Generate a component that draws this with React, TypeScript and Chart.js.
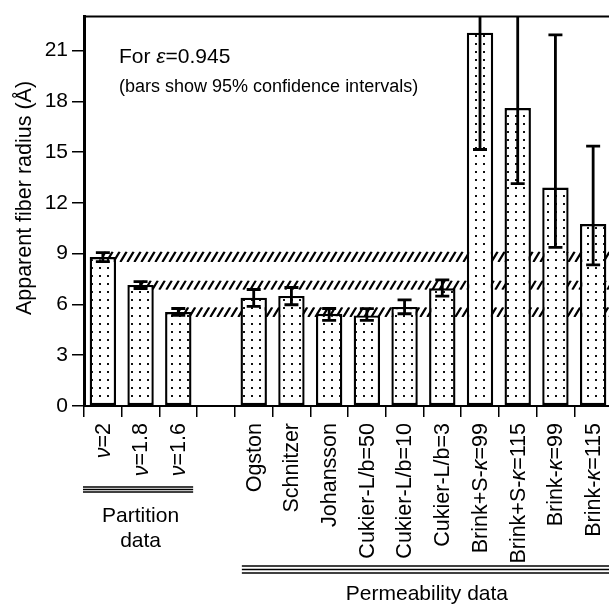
import React, { useEffect, useRef } from "react";
import { Chart, registerables } from "chart.js";
Chart.register(...registerables);

// ---------- data ----------
const categories = [
  "ν=2", "ν=1.8", "ν=1.6", "",
  "Ogston", "Schnitzer", "Johansson",
  "Cukier-L/b=50", "Cukier-L/b=10", "Cukier-L/b=3",
  "Brink+S-κ=99", "Brink+S-κ=115", "Brink-κ=99", "Brink-κ=115",
];
const radius = [8.8, 7.15, 5.55, null, 6.4, 6.5, 5.45, 5.35, 5.85, 6.95, 22.05, 17.6, 12.9, 10.75];
const ciLow = [8.53, 6.94, 5.35, null, 5.88, 5.98, 5.06, 5.06, 5.45, 6.49, 15.15, 13.14, 9.37, 8.33];
const ciHigh = [9.06, 7.35, 5.76, null, 6.88, 7.0, 5.76, 5.75, 6.27, 7.45, 29.0, 25.0, 21.92, 15.35];
const bandLow = [8.5, 6.86, 5.25];
const bandHigh = [9.12, 7.41, 5.84];
const bandStart = [0, 1, 2];
const yTicks = [0, 3, 6, 9, 12, 15, 18, 21];
const yMax = 23;
const yTitle = "Apparent fiber radius (Å)";
const note1 = "For ε=0.945";
const note2 = "(bars show 95% confidence intervals)";
const groupLabels = [["Partition", "data"], ["Permeability data"]];
const groupFrom = [0, 4];
const groupTo = [3, 14];

const FONT = '"Liberation Sans", Arial, Helvetica, sans-serif';
const GREEK = /[νκε]/;

function runs(text: string) {
  const out: { t: string; it: boolean }[] = [];
  for (const ch of text) {
    const it = GREEK.test(ch);
    if (out.length && out[out.length - 1].it === it) out[out.length - 1].t += ch;
    else out.push({ t: ch, it });
  }
  return out;
}

function drawRich(ctx: CanvasRenderingContext2D, text: string, x: number, y: number, size: number, align: string) {
  const rs = runs(text);
  const widths = rs.map((r) => {
    ctx.font = `${r.it ? "italic " : ""}${size}px ${FONT}`;
    return ctx.measureText(r.t).width;
  });
  const total = widths.reduce((a, b) => a + b, 0);
  let cx = align === "right" ? x - total : align === "center" ? x - total / 2 : x;
  ctx.textAlign = "left";
  rs.forEach((r, i) => {
    ctx.font = `${r.it ? "italic " : ""}${size}px ${FONT}`;
    ctx.fillText(r.t, cx, y);
    cx += widths[i];
  });
}

const W = 625;
const H = 605;

const decorPlugin = {
  id: "decor",
  beforeDatasetsDraw(chart: any) {
    const { ctx, chartArea, scales } = chart;
    const xs = scales.x;
    const ys = scales.y;
    bandLow.forEach((lo, k) => {
      const x0 = xs.getPixelForValue(bandStart[k]);
      const x1 = chartArea.right;
      const yTop = ys.getPixelForValue(bandHigh[k]);
      const yBot = ys.getPixelForValue(lo);
      const h = yBot - yTop;
      ctx.save();
      ctx.beginPath();
      ctx.rect(x0, yTop, x1 - x0, h);
      ctx.clip();
      ctx.strokeStyle = "#000";
      ctx.lineWidth = 2.2;
      ctx.beginPath();
      for (let x = x0 - h; x < x1 + h; x += 7) {
        ctx.moveTo(x, yBot);
        ctx.lineTo(x + h * 0.6, yTop);
      }
      ctx.stroke();
      ctx.restore();
    });
  },
  afterDatasetsDraw(chart: any) {
    const { ctx, chartArea, scales } = chart;
    const xs = scales.x;
    const ys = scales.y;
    ctx.save();
    ctx.beginPath();
    ctx.rect(chartArea.left, chartArea.top, chartArea.right - chartArea.left, chartArea.bottom - chartArea.top);
    ctx.clip();
    ctx.strokeStyle = "#000";
    ctx.lineWidth = 2.8;
    categories.forEach((_, i) => {
      const lo = ciLow[i];
      const hi = ciHigh[i];
      if (lo == null || hi == null) return;
      const x = xs.getPixelForValue(i);
      const yl = ys.getPixelForValue(lo);
      const yh = ys.getPixelForValue(hi);
      ctx.beginPath();
      ctx.moveTo(x, yl);
      ctx.lineTo(x, yh);
      ctx.moveTo(x - 7, yl);
      ctx.lineTo(x + 7, yl);
      ctx.moveTo(x - 7, yh);
      ctx.lineTo(x + 7, yh);
      ctx.stroke();
    });
    ctx.restore();
  },
  afterDraw(chart: any) {
    const { ctx, chartArea, scales } = chart;
    const xs = scales.x;
    ctx.save();
    ctx.fillStyle = "#000";
    ctx.strokeStyle = "#000";
    // top border
    ctx.lineWidth = 2;
    ctx.beginPath();
    ctx.moveTo(chartArea.left, chartArea.top);
    ctx.lineTo(chartArea.right, chartArea.top);
    ctx.stroke();

    // y title
    ctx.save();
    ctx.translate(25, 198);
    ctx.rotate(-Math.PI / 2);
    ctx.textBaseline = "middle";
    drawRich(ctx, yTitle, 0, 0, 21.5, "center");
    ctx.restore();

    // notes
    ctx.textBaseline = "alphabetic";
    drawRich(ctx, note1, 119, 63, 21, "left");
    drawRich(ctx, note2, 119, 92, 18, "left");

    // x labels
    const slot = xs.getPixelForValue(1) - xs.getPixelForValue(0);
    categories.forEach((lab, i) => {
      if (!lab) return;
      const x = xs.getPixelForValue(i);
      ctx.save();
      ctx.translate(x + 1, chartArea.bottom + 17);
      ctx.rotate(-Math.PI / 2);
      ctx.textBaseline = "middle";
      drawRich(ctx, lab, 0, 0, 21.5, "right");
      ctx.restore();
    });

    // groups
    const edge = (i: number) => xs.getPixelForValue(0) + (i - 0.5) * slot;
    ctx.lineWidth = 1.3;
    // partition
    const p0 = edge(groupFrom[0]) - 1;
    const p1 = edge(groupTo[0]) - 4;
    [487, 489.5, 492].forEach((y) => {
      ctx.beginPath();
      ctx.moveTo(p0, y);
      ctx.lineTo(p1, y);
      ctx.stroke();
    });
    const pc = (edge(groupFrom[0]) + edge(groupTo[0])) / 2;
    drawRich(ctx, groupLabels[0][0], pc, 522, 21, "center");
    drawRich(ctx, groupLabels[0][1], pc, 547, 21, "center");
    // permeability
    const q0 = edge(groupFrom[1]) + 7;
    const q1 = edge(groupTo[1]);
    [566, 569.5, 573].forEach((y) => {
      ctx.beginPath();
      ctx.moveTo(q0, y);
      ctx.lineTo(q1, y);
      ctx.stroke();
    });
    drawRich(ctx, groupLabels[1][0], (q0 + q1) / 2, 600, 21, "center");
    ctx.restore();
  },
};

export default function App() {
  const ref = useRef<HTMLCanvasElement | null>(null);
  useEffect(() => {
    const canvas = ref.current!;
    const ctx = canvas.getContext("2d")!;
    const tile = document.createElement("canvas");
    tile.width = 8;
    tile.height = 8;
    const tc = tile.getContext("2d")!;
    tc.fillStyle = "#fff";
    tc.fillRect(0, 0, 8, 8);
    tc.fillStyle = "#111";
    tc.fillRect(3, 3, 2, 2);
    const pattern = ctx.createPattern(tile, "repeat");

    const chart = new Chart(canvas, {
      type: "bar",
      data: {
        labels: categories,
        datasets: [
          {
            data: radius as any,
            backgroundColor: pattern as any,
            borderColor: "#000",
            borderWidth: 2.4,
            borderSkipped: false,
            barPercentage: 0.7,
            categoryPercentage: 1,
          },
        ],
      },
      options: {
        animation: false,
        responsive: false,
        devicePixelRatio: 1,
        layout: { padding: { top: 14, right: W - 612, left: 0, bottom: 0 } },
        plugins: { legend: { display: false }, tooltip: { enabled: false } },
        scales: {
          x: {
            type: "category",
            offset: true,
            grid: { offset: true, drawOnChartArea: false, drawTicks: true, tickLength: 11, color: "#000", lineWidth: 1.5 },
            border: { display: true, color: "#000", width: 2 },
            ticks: { display: false, autoSkip: false },
            afterFit: (s: any) => { s.height = H - 406; },
          },
          y: {
            min: 0,
            max: yMax,
            afterBuildTicks: (s: any) => { s.ticks = yTicks.map((v) => ({ value: v })); },
            grid: { drawOnChartArea: false, tickLength: 12, color: "#000", lineWidth: 1.5 },
            border: { display: true, color: "#000", width: 3 },
            ticks: { color: "#000", font: { family: FONT, size: 21 }, padding: 4 },
            afterFit: (s: any) => { s.width = 84; },
          },
        },
      },
      plugins: [decorPlugin],
    });
    return () => chart.destroy();
  }, []);
  return (
    <div style={{ position: "absolute", left: 0, top: 0, width: 609, height: 605, overflow: "hidden", background: "#fff" }}>
      <canvas ref={ref} width={W} height={H} style={{ display: "block" }} />
    </div>
  );
}
